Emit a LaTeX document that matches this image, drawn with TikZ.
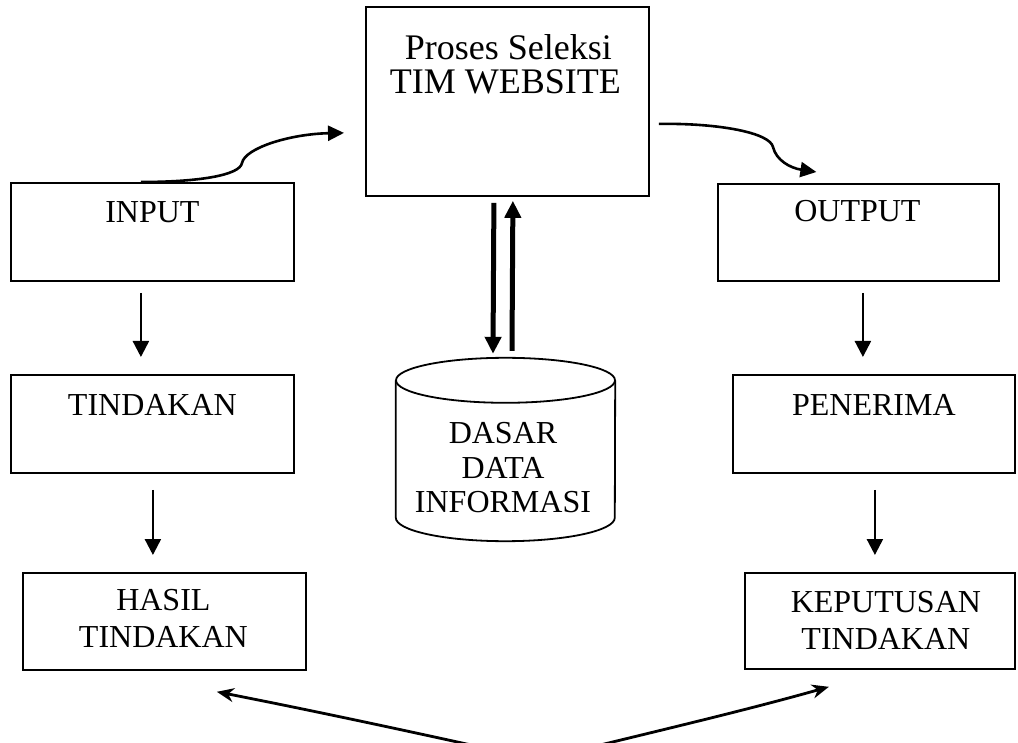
\documentclass[tikz,border=0pt]{standalone}
\usepackage{fontspec}
\setmainfont{Liberation Serif}
\usetikzlibrary{arrows.meta,calc}
\begin{document}
\begin{tikzpicture}[x=1pt,y=-1pt,
  box/.style={draw,line width=1.8pt,anchor=north west,inner sep=0pt},
  lbl/.style={anchor=base,inner sep=0pt,font=\fontsize{32}{37}\selectfont},
  biglbl/.style={anchor=base,inner sep=0pt,font=\fontsize{36}{40}\selectfont},
  arr/.style={line width=2.4pt,-{Triangle[length=16pt,width=16pt]}},
  thickarr/.style={line width=5pt,-{Triangle[length=17pt,width=16pt]}},
  curvarr/.style={line width=2.6pt,-{Triangle[length=16pt,width=15pt]}},
  duoarr/.style={line width=2.8pt,{Stealth[length=17pt,width=14pt]}-{Stealth[length=17pt,width=14pt]}}]
\clip (0,0) rectangle (1018,743);
% boxes
\node[box,minimum width=283pt,minimum height=98pt] (input) at (10,182) {};
\node[box,minimum width=283pt,minimum height=189pt] (proses) at (365,6) {};
\node[box,minimum width=281pt,minimum height=97pt] (output) at (717,183) {};
\node[box,minimum width=283pt,minimum height=98pt] (tindakan) at (10,374) {};
\node[box,minimum width=283pt,minimum height=97pt] (hasil) at (22,572) {};
\node[box,minimum width=282pt,minimum height=98pt] (penerima) at (732,374) {};
\node[box,minimum width=270pt,minimum height=96pt] (keputusan) at (744,572) {};
% database cylinder
\node[inner sep=0pt,minimum width=219pt,minimum height=183pt] (db) at (505.5,449.5) {};
\draw[line width=1.8pt] ($(db.north)+(0,22.5)$) ellipse [x radius=109.5pt, y radius=22.5pt];
\draw[line width=1.8pt] ($(db.north west)+(0,22.5)$) -- ($(db.south west)+(0,-23.5)$)
  arc[start angle=180,end angle=360,x radius=109.5pt,y radius=23.5pt]
  -- ($(db.north east)+(0,22.5)$);
% texts
\node[lbl] (tinput) at ($(input.north)+(0,41)$) {INPUT};
\node[lbl] (toutput) at ($(output.north)+(-1,39)$) {OUTPUT};
\node[lbl] (ttindakan) at ($(tindakan.north)+(0,41)$) {TINDAKAN};
\node[lbl] (tpenerima) at ($(penerima.north)+(0,41)$) {PENERIMA};
\node[lbl] (thasila) at ($(hasil.north)+(-1,38)$) {HASIL};
\node[lbl] (thasilb) at ($(hasil.north)+(-1,75)$) {TINDAKAN};
\node[lbl] (tkepa) at ($(keputusan.north)+(6,40)$) {KEPUTUSAN};
\node[lbl] (tkepb) at ($(keputusan.north)+(6,77)$) {TINDAKAN};
\node[biglbl] (tprosa) at ($(proses.north)+(1,54)$) {Proses Seleksi};
\node[biglbl] (tprosb) at ($(proses.north)+(-2,88)$) {TIM WEBSITE};
\node[lbl] (tdba) at (503,443) {DASAR};
\node[lbl] (tdbb) at (503,478) {DATA};
\node[lbl] (tdbc) at (503,512) {INFORMASI};
% vertical arrows
\draw[arr] ($(input.south)+(-11.5,11)$) -- ($(tindakan.north)+(-11.5,-17)$);
\draw[arr] ($(tindakan.south)+(0.5,16)$) -- ($(hasil.north)+(-11.5,-17)$);
\draw[arr] ($(output.south)+(4.5,11)$) -- ($(penerima.north)+(-11,-17)$);
\draw[arr] ($(penerima.south)+(1,16)$) -- ($(keputusan.north)+(-5,-17)$);
% database arrows
\draw[thickarr] ($(proses.south)+(-13.5,6)$) -- ($(db.north)+(-12.5,-4)$);
\draw[thickarr] ($(db.north)+(6.5,-7)$) -- ($(proses.south)+(5.5,4)$);
% curved arrows
\draw[curvarr] ($(input.north)+(-11.5,0)$) .. controls (200,182) and (240,175) .. (242,163)
  .. controls (245,148) and (290,134) .. ($(proses.west)+(-21,31.5)$);
\draw[curvarr] ($(proses.east)+(9,22.5)$) .. controls (720,123) and (770,133) .. (773,147)
  .. controls (776,160) and (790,168) .. ($(output.north)+(-42,-11)$);
% bottom double arrow
\draw[duoarr] ($(hasil.south)+(52.5,21)$) .. controls (330,714) and (440,738) .. (539,760)
  .. controls (640,735) and (740,712) .. ($(keputusan.south)+(-51,17)$);
\end{tikzpicture}
\end{document}
